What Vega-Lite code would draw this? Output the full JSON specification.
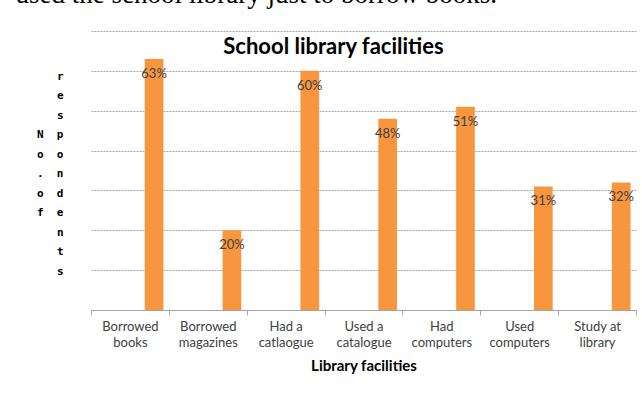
{
  "$schema": "https://vega.github.io/schema/vega-lite/v6.json",
  "width": 545,
  "height": 279,
  "autosize": {"type": "none"},
  "padding": {"left": 91, "top": 31, "right": 6, "bottom": 89},
  "background": "white",
  "config": {"view": {"stroke": null}, "font": "Lato"},
  "data": {
    "values": [
      {"facility": "Borrowed books", "series": "Respondents", "share": 0.63},
      {"facility": "Borrowed magazines", "series": "Respondents", "share": 0.20},
      {"facility": "Had a catlaogue", "series": "Respondents", "share": 0.60},
      {"facility": "Used a catalogue", "series": "Respondents", "share": 0.48},
      {"facility": "Had computers", "series": "Respondents", "share": 0.51},
      {"facility": "Used computers", "series": "Respondents", "share": 0.31},
      {"facility": "Study at library", "series": "Respondents", "share": 0.32}
    ]
  },
  "encoding": {
    "xOffset": {
      "field": "series",
      "type": "nominal",
      "scale": {"domain": ["Other", "Respondents"], "paddingInner": 0.613, "paddingOuter": 0.113}
    }
  },
  "layer": [
    {
      "mark": {"type": "bar", "color": "#F8963F"},
      "encoding": {
        "x": {
          "field": "facility",
          "type": "nominal",
          "sort": null,
          "scale": {"paddingInner": 0, "paddingOuter": 0},
          "axis": {
            "title": "Library facilities",
            "titleFont": "Lato",
            "titleFontSize": 15,
            "titleFontWeight": "bold",
            "titleColor": "#000000",
            "titlePadding": 9,
            "labelAngle": 0,
            "labelFont": "Lato",
            "labelFontSize": 13,
            "labelColor": "#404040",
            "labelLineHeight": 16,
            "labelPadding": 5,
            "labelBaseline": "top",
            "labelLimit": 200,
            "labelOverlap": false,
            "labelExpr": "[slice(datum.label, 0, lastindexof(datum.label, ' ')), slice(datum.label, lastindexof(datum.label, ' ') + 1)]",
            "tickBand": "extent",
            "tickColor": "#a6a6a6",
            "tickSize": 5,
            "domainColor": "#a6a6a6",
            "grid": false
          }
        },
        "y": {
          "field": "share",
          "type": "quantitative",
          "scale": {"domain": [0, 0.7]},
          "axis": {
            "title": ["r", "e", "s", "N\u00a0\u00a0p", "o\u00a0\u00a0o", ".\u00a0\u00a0n", "o\u00a0\u00a0d", "f\u00a0\u00a0e", "n", "t", "s"],
            "titleAngle": 0,
            "titleAlign": "right",
            "titleBaseline": "middle",
            "titleX": -28,
            "titleY": 45,
            "titleFont": "DejaVu Sans Mono",
            "titleFontSize": 11,
            "titleFontWeight": "bold",
            "titleColor": "#000000",
            "titleLineHeight": 19.5,
            "labels": false,
            "ticks": false,
            "domain": false,
            "grid": true,
            "gridColor": "#a6a6a6",
            "gridDash": [2, 1],
            "values": [0.1, 0.2, 0.3, 0.4, 0.5, 0.6, 0.7]
          }
        }
      }
    },
    {
      "mark": {"type": "text", "baseline": "middle", "dy": 15, "fontSize": 13, "font": "Lato", "color": "#404040"},
      "encoding": {
        "x": {
          "field": "facility",
          "type": "nominal",
          "sort": null,
          "axis": {
            "orient": "top",
            "title": "used the school library just to borrow books.",
            "titleFont": "Liberation Serif",
            "titleFontSize": 27,
            "titleFontWeight": "normal",
            "titleColor": "#000000",
            "titleAlign": "left",
            "titleBaseline": "alphabetic",
            "titleAngle": 0,
            "titleX": -76,
            "titleY": -29,
            "labels": false,
            "ticks": false,
            "domain": false,
            "grid": false
          }
        },
        "y": {
          "field": "share",
          "type": "quantitative",
          "axis": {
            "orient": "right",
            "title": "School library facilities",
            "titleFont": "Lato",
            "titleFontSize": 22,
            "titleFontWeight": "bold",
            "titleColor": "#000000",
            "titleAlign": "center",
            "titleBaseline": "alphabetic",
            "titleAngle": 0,
            "titleX": -303,
            "titleY": 22,
            "labels": false,
            "ticks": false,
            "domain": false,
            "grid": false
          }
        },
        "text": {"field": "share", "format": ".0%"}
      }
    }
  ],
  "resolve": {"axis": {"x": "independent", "y": "independent"}}
}
